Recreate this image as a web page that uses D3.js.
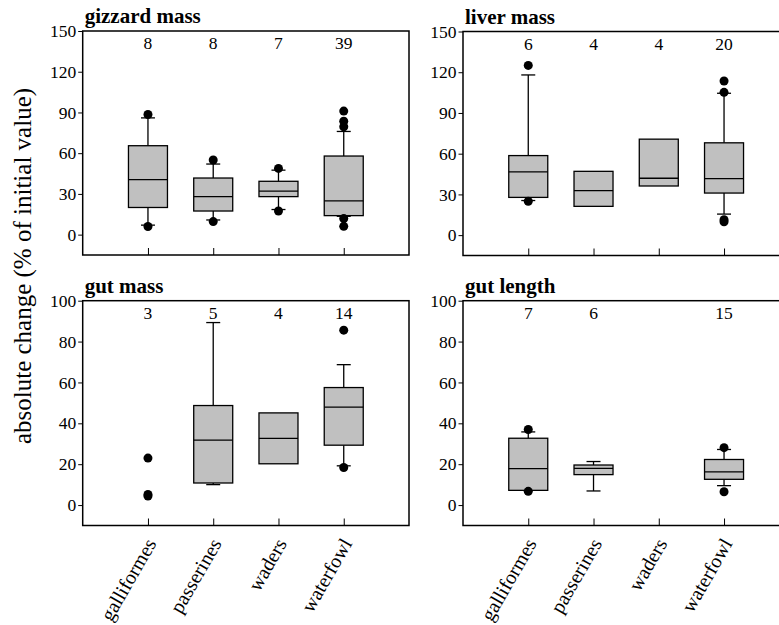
<!DOCTYPE html>
<html>
<head>
<meta charset="utf-8">
<script src="https://cdn.jsdelivr.net/npm/d3@7"></script>
<style>
  body { margin: 0; background: #fff; }
</style>
</head>
<body>
<div id="chart"></div>
<script>
var serif = "'Liberation Serif', 'Times New Roman', Times, serif";

// categories on the x axis
var groups = ["galliformes", "passerines", "waders", "waterfowl"];

// box stats per group: [lower whisker, q1, median, q3, upper whisker], null = no box
var gizzardBoxes = [[7, 20, 40.5, 65.5, 86], [10.8, 17.4, 28, 41.7, 52], [18.5, 28, 32, 39.3, 47.5], [13.5, 14, 24.8, 57.9, 76]];
var gizzardDots = [[88.5, 6], [55, 9.6], [48.8, 17.4], [91, 83.5, 79.5, 11.8, 6.1]];
var gizzardN = ["8", "8", "7", "39"];

var liverBoxes = [[25.5, 27.8, 46.6, 58.6, 118], [21.2, 21.2, 32.8, 47, 47], [36.2, 36.2, 41.9, 70.7, 70.7], [15.5, 31, 41.6, 68, 104.5]];
var liverDots = [[125, 25], [], [], [113.5, 105.2, 11.3, 9.9]];
var liverN = ["6", "4", "4", "20"];

var gutMassBoxes = [null, [10, 10.8, 31.8, 48.7, 89.3], [20.2, 20.2, 32.6, 45.1, 45.1], [19.2, 29.3, 47.9, 57.5, 68.7]];
var gutMassDots = [[23, 5.2, 4.4], [], [], [85.6, 18.4]];
var gutMassN = ["3", "5", "4", "14"];

var gutLengthBoxes = [[7.2, 7.2, 17.8, 32.7, 35.8], [6.9, 14.9, 18, 19.6, 21.3], null, [9.5, 12.6, 16.2, 22.3, 27.2]];
var gutLengthDots = [[37, 6.7], [], [], [28.1, 6.5]];
var gutLengthN = ["7", "6", "", "15"];

var topTicks = [0, 30, 60, 90, 120, 150];
var bottomTicks = [0, 20, 40, 60, 80, 100];

var svg = d3.select("#chart")
  .append("svg")
    .attr("width", 779)
    .attr("height", 625)
    .style("font-family", serif);

// one panel of box plots
function drawPanel(opt) {
  var x = d3.scalePoint()
    .domain(groups)
    .range([opt.left, opt.right])
    .padding(1);

  var y = d3.scaleLinear()
    .domain(opt.domain)
    .range([opt.bottom, opt.top]);

  var g = svg.append("g");
  var boxW = 39, capW = 14;

  // y axis, ticks outside
  g.append("g")
    .attr("transform", "translate(" + opt.left + ",0)")
    .call(d3.axisLeft(y).tickValues(opt.ticks).tickSize(4.5).tickPadding(2))
    .call(function(a) {
      a.attr("font-family", null).attr("font-size", null);
      a.select(".domain").remove();
      a.selectAll("text")
        .style("font-family", serif)
        .style("font-size", "17.5px")
        .attr("fill", "#000");
      a.selectAll("line").attr("stroke", "#000");
    });

  // x axis, ticks pointing up into the plot
  g.append("g")
    .attr("transform", "translate(0," + opt.bottom + ")")
    .call(d3.axisBottom(x).tickSize(-7).tickFormat(""))
    .call(function(a) {
      a.select(".domain").remove();
      a.selectAll("line").attr("stroke", "#000");
    });

  // category labels, rotated
  if (opt.labels) {
    g.selectAll(".cat")
      .data(groups)
      .enter()
      .append("text")
      .attr("text-anchor", "end")
      .attr("transform", function(d) { return "translate(" + (x(d) + 9) + "," + (opt.bottom + 18) + ")rotate(-60)"; })
      .style("font-family", serif)
      .style("font-size", "20px")
      .text(function(d) { return d; });
  }

  // frame
  g.append("rect")
    .attr("x", opt.left)
    .attr("y", opt.top)
    .attr("width", opt.right - opt.left)
    .attr("height", opt.bottom - opt.top)
    .attr("fill", "none")
    .attr("stroke", "#000")
    .attr("stroke-width", 1.5);

  // whiskers and boxes
  groups.forEach(function(name, i) {
    var b = opt.boxes[i];
    if (!b) return;
    var cx = x(name);
    [[b[0], b[1]], [b[4], b[3]]].forEach(function(w) {
      if (w[0] == w[1]) return;
      g.append("line")
        .attr("x1", cx).attr("x2", cx)
        .attr("y1", y(w[0])).attr("y2", y(w[1]))
        .attr("stroke", "#000").attr("stroke-width", 1.3);
      g.append("line")
        .attr("x1", cx - capW / 2).attr("x2", cx + capW / 2)
        .attr("y1", y(w[0])).attr("y2", y(w[0]))
        .attr("stroke", "#000").attr("stroke-width", 1.3);
    });
    g.append("rect")
      .attr("x", cx - boxW / 2)
      .attr("y", y(b[3]))
      .attr("width", boxW)
      .attr("height", y(b[1]) - y(b[3]))
      .attr("fill", "#c0c0c0")
      .attr("stroke", "#000")
      .attr("stroke-width", 1.3);
    g.append("line")
      .attr("x1", cx - boxW / 2).attr("x2", cx + boxW / 2)
      .attr("y1", y(b[2])).attr("y2", y(b[2]))
      .attr("stroke", "#000").attr("stroke-width", 1.3);
  });

  // outlying points
  groups.forEach(function(name, i) {
    g.selectAll(".dot" + i)
      .data(opt.dots[i])
      .enter()
      .append("circle")
      .attr("cx", x(name))
      .attr("cy", function(d) { return y(d); })
      .attr("r", 4.5)
      .attr("fill", "#000");
  });

  // sample sizes
  g.selectAll(".n")
    .data(opt.n)
    .enter()
    .append("text")
    .attr("x", function(d, i) { return x(groups[i]); })
    .attr("y", opt.top + 18)
    .attr("text-anchor", "middle")
    .style("font-family", serif)
    .style("font-size", "17.5px")
    .text(function(d) { return d; });

  // title
  g.append("text")
    .attr("x", opt.left + 2)
    .attr("y", opt.top - 8)
    .style("font-family", serif)
    .style("font-size", "21px")
    .style("font-weight", "bold")
    .text(opt.title);
}

drawPanel({ title: "gizzard mass", left: 82.7, right: 409, top: 31, bottom: 255, domain: [-15, 150], ticks: topTicks, boxes: gizzardBoxes, dots: gizzardDots, n: gizzardN, labels: false });
drawPanel({ title: "liver mass", left: 463, right: 789.3, top: 31.5, bottom: 255.5, domain: [-15, 150], ticks: topTicks, boxes: liverBoxes, dots: liverDots, n: liverN, labels: false });
drawPanel({ title: "gut mass", left: 82.7, right: 409, top: 300.7, bottom: 525.5, domain: [-10, 100], ticks: bottomTicks, boxes: gutMassBoxes, dots: gutMassDots, n: gutMassN, labels: true });
drawPanel({ title: "gut length", left: 463, right: 789.3, top: 300.7, bottom: 525.5, domain: [-10, 100], ticks: bottomTicks, boxes: gutLengthBoxes, dots: gutLengthDots, n: gutLengthN, labels: true });

// shared y label
svg.append("text")
  .attr("transform", "translate(31,266)rotate(-90)")
  .attr("text-anchor", "middle")
  .style("font-family", serif)
  .style("font-size", "25px")
  .text("absolute change (% of initial value)");
</script>
</body>
</html>
